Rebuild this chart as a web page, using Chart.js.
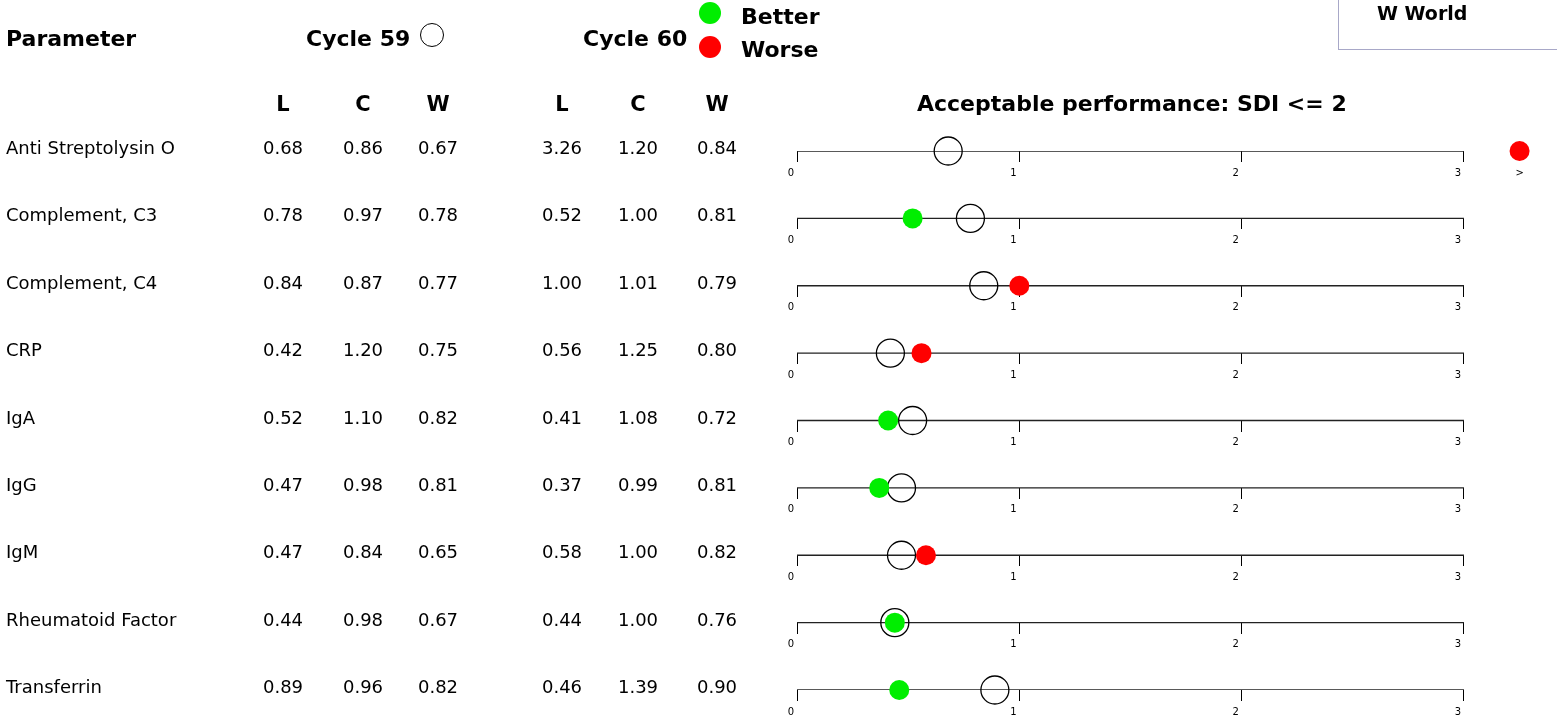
<!DOCTYPE html>
<html>
<head>
<meta charset="utf-8">
<script src="https://cdn.jsdelivr.net/npm/chart.js@4.4.1/dist/chart.umd.min.js"></script>
<style>
    body { margin: 0; background: #fff; }
    #wrap { position: relative; width: 1557px; height: 722px; overflow: hidden; font-family: "DejaVu Sans", sans-serif; color: #000; }
    #sdiChart { position: absolute; left: 0; top: 0; }
    .t { position: absolute; white-space: nowrap; line-height: 1; transform: translateY(-50%); font-size: 18px; }
    .c { transform: translate(-50%, -50%); }
    .b { font-weight: bold; font-size: 22px; }
    .dot { position: absolute; border-radius: 50%; }
    #worldBox { position: absolute; left: 1338px; top: -2px; width: 240px; height: 52px; border: 1px solid #a8a8c8; box-sizing: border-box; }
</style>
</head>
<body>
<div id="wrap">
    <canvas id="sdiChart" width="1557" height="722"></canvas>
    <div id="worldBox"></div>
</div>
<script>
const parameters = ['Anti Streptolysin O', 'Complement, C3', 'Complement, C4', 'CRP', 'IgA', 'IgG', 'IgM', 'Rheumatoid Factor', 'Transferrin'];
const cycle59L = [0.68, 0.78, 0.84, 0.42, 0.52, 0.47, 0.47, 0.44, 0.89];
const cycle59C = [0.86, 0.97, 0.87, 1.20, 1.10, 0.98, 0.84, 0.98, 0.96];
const cycle59W = [0.67, 0.78, 0.77, 0.75, 0.82, 0.81, 0.65, 0.67, 0.82];
const cycle60L = [3.26, 0.52, 1.00, 0.56, 0.41, 0.37, 0.58, 0.44, 0.46];
const cycle60C = [1.20, 1.00, 1.01, 1.25, 1.08, 0.99, 1.00, 1.00, 1.39];
const cycle60W = [0.84, 0.81, 0.79, 0.80, 0.72, 0.81, 0.82, 0.76, 0.90];
const sdiTicks = [0, 1, 2, 3];

const AXIS_MAX = 3;     // end of the drawn axis line
const OVER = 3.25;      // where values beyond the axis are shown
const VIEW_MAX = 3.4;   // right edge of the plotting area
const GREEN = '#00ee00';
const RED = '#ff0000';

const wrap = document.getElementById('wrap');

function addText(txt, x, y, cls, extra) {
    const el = document.createElement('div');
    el.className = 't ' + (cls || '');
    el.textContent = txt;
    el.style.left = x + 'px';
    el.style.top = y + 'px';
    if (extra) Object.assign(el.style, extra);
    wrap.appendChild(el);
}

function addDot(x, y, r, fill, border) {
    const el = document.createElement('div');
    el.className = 'dot';
    el.style.left = (x - r) + 'px';
    el.style.top = (y - r) + 'px';
    el.style.width = el.style.height = (2 * r) + 'px';
    el.style.background = fill;
    if (border) { el.style.border = border; el.style.boxSizing = 'border-box'; }
    wrap.appendChild(el);
}

// header
addText('Parameter', 6, 39, 'b');
addText('Cycle 59', 306, 39, 'b');
addDot(432, 35, 12, 'transparent', '1.3px solid #000');
addText('Cycle 60', 583, 39, 'b');
addDot(710, 13, 11, GREEN);
addDot(710, 47, 11, RED);
addText('Better', 741, 17, 'b');
addText('Worse', 741, 50, 'b');
addText('W World', 1377, 13, 'b', { fontSize: '19px' });

const colX = [283, 363, 438, 562, 638, 717];
['L', 'C', 'W', 'L', 'C', 'W'].forEach((h, k) => addText(h, colX[k], 104, 'b c', { fontSize: '21px' }));
addText('Acceptable performance: SDI <= 2', 917, 104, 'b');

// table rows
const rowY0 = 151, rowStep = 67.4;
const columns = [cycle59L, cycle59C, cycle59W, cycle60L, cycle60C, cycle60W];
parameters.forEach((p, i) => {
    const y = rowY0 + i * rowStep - 3;
    addText(p, 6, y);
    columns.forEach((col, k) => addText(col[i].toFixed(2), colX[k], y, 'c'));
});

// chart
const scales = {
    x: { type: 'linear', min: 0, max: VIEW_MAX, display: false },
    y: { type: 'linear', min: 0, max: parameters.length - 1, reverse: true, display: false }
};
parameters.forEach((p, i) => {
    scales['x' + i] = {
        type: 'linear',
        axis: 'x',
        position: { y: i },
        min: 0,
        max: VIEW_MAX,
        z: 1,
        afterBuildTicks: s => { s.ticks = sdiTicks.map(v => ({ value: v })); },
        grid: { drawOnChartArea: false, drawTicks: true, tickLength: 11, color: '#000', lineWidth: 1 },
        border: { display: false },
        ticks: {
            color: '#000',
            font: { family: 'DejaVu Sans', size: 10 },
            padding: 5,
            labelOffset: -6,
            maxRotation: 0,
            autoSkip: false
        }
    };
});

const better = [], worse = [], prev = [];
parameters.forEach((p, i) => {
    prev.push({ x: Math.min(cycle59L[i], OVER), y: i });
    const pt = { x: cycle60L[i] > AXIS_MAX ? OVER : cycle60L[i], y: i };
    (cycle60L[i] <= cycle59L[i] ? better : worse).push(pt);
});

// axis rules from 0 to the last tick, one per parameter
const rules = parameters.map((p, i) => ({
    type: 'line',
    data: [{ x: sdiTicks[0], y: i }, { x: sdiTicks[sdiTicks.length - 1], y: i }],
    borderColor: '#222',
    borderWidth: 1.3,
    pointRadius: 0,
    showLine: true,
    order: 3
}));

const overflowMarks = {
    id: 'overflowMarks',
    afterDraw(chart) {
        const ctx = chart.ctx;
        ctx.save();
        ctx.fillStyle = '#000';
        ctx.font = '10px "DejaVu Sans"';
        ctx.textAlign = 'center';
        ctx.textBaseline = 'middle';
        parameters.forEach((p, i) => {
            if (cycle60L[i] > AXIS_MAX || cycle59L[i] > AXIS_MAX) {
                ctx.fillText('>', chart.scales.x.getPixelForValue(OVER), chart.scales.y.getPixelForValue(i) + 22);
            }
        });
        ctx.restore();
    }
};

new Chart(document.getElementById('sdiChart'), {
    type: 'scatter',
    data: {
        datasets: [
            { label: 'Better', data: better, pointRadius: 10, pointBackgroundColor: GREEN, pointBorderWidth: 0, clip: false, order: 1 },
            { label: 'Worse', data: worse, pointRadius: 10, pointBackgroundColor: RED, pointBorderWidth: 0, clip: false, order: 1 },
            { label: 'Cycle 59', data: prev, pointRadius: 14, pointBackgroundColor: 'rgba(0,0,0,0)', pointBorderColor: '#000', pointBorderWidth: 1.3, clip: false, order: 2 },
            ...rules
        ]
    },
    options: {
        responsive: false,
        animation: false,
        events: [],
        layout: {
            autoPadding: false,
            padding: { left: 797, right: 1557 - (797 + 222.33 * VIEW_MAX), top: 151, bottom: 722 - 690 }
        },
        scales: scales,
        plugins: { legend: { display: false }, tooltip: { enabled: false } }
    },
    plugins: [overflowMarks]
});
</script>
</body>
</html>
